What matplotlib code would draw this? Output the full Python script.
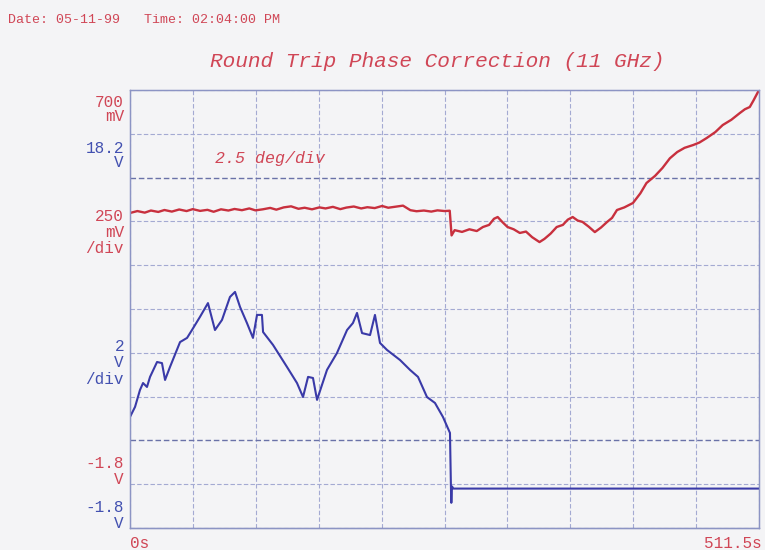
import numpy as np
import matplotlib
matplotlib.use("Agg")
import matplotlib.pyplot as plt

# time base (s) and channel scales
t_end = 511.5
red_top, red_bot = 700, -1800      # mV, 250 mV/div
blue_top, blue_bot = 18.2, -1.8    # V, 2 V/div

# red channel (mV) - phase correction
red_t = [0, 6, 12, 17, 23, 28, 34, 40, 46, 51, 57, 63, 68, 74, 80, 85, 91, 97, 102, 108,
         114, 119, 125, 131, 137, 142, 148, 154, 159, 165, 171, 176, 182, 188, 193, 199,
         205, 210, 216, 222, 228, 233, 239, 245, 250, 256, 260,
         261.5, 264, 270, 276, 282, 287, 292, 296, 299, 303, 307, 312, 317, 322, 327,
         333, 337, 342, 347, 352, 356, 360, 364, 368, 373, 378, 383, 388, 392, 396, 402,
         409, 415, 420, 427, 433, 439, 445, 451, 458, 463, 469, 476, 482, 489, 496, 500,
         504, 507, 511.5]
red_mv = [-2, 9, 0, 12, 4, 15, 6, 18, 9, 20, 10, 16, 5, 19, 12, 21, 14, 24, 13, 19,
          27, 17, 30, 36, 22, 28, 19, 30, 24, 33, 20, 29, 35, 24, 31, 26,
          38, 28, 34, 40, 14, 8, 12, 6, 13, 9, 11,
          -130, -100, -110, -95, -105, -82, -70, -35, -25, -55, -82, -95, -116, -108, -140,
          -168, -150, -120, -82, -70, -40, -25, -45, -53, -80, -111, -85, -53, -30, 15, 30,
          55, 110, 169, 210, 255, 310, 346, 370, 386, 400, 426, 460, 500, 530, 569, 590,
          603, 640, 700]

# blue channel (V)
blue_t = [0, 4.1, 8.1, 10.6, 13.8, 16.3, 22.0, 26.0, 28.5, 32.5, 40.7, 46.4, 50.4, 56.9,
          63.4, 69.1, 74.8, 81.3, 85.4, 89.5, 95.1, 100.0, 103.3, 107.3, 108.2, 116.3,
          127.7, 135.8, 140.7, 144.8, 148.8, 152.1, 156.1, 160.2, 168.3, 176.5, 181.3,
          184.6, 188.7, 195.2, 199.2, 203.3, 209.0, 219.6, 227.7, 234.2, 241.5, 248.0,
          254.5, 260.2, 261.0, 261.3, 261.8, 263.0, 511.5]
blue_v = [3.27, 3.73, 4.50, 4.82, 4.64, 5.10, 5.78, 5.73, 4.96, 5.55, 6.69, 6.88, 7.24, 7.84,
          8.47, 7.24, 7.70, 8.75, 8.98, 8.29, 7.56, 6.88, 7.93, 7.93, 7.15, 6.56,
          5.55, 4.82, 4.18, 5.10, 5.05, 4.05, 4.73, 5.42, 6.19, 7.24, 7.56,
          8.02, 7.10, 7.01, 7.93, 6.65, 6.33, 5.87, 5.42, 5.10, 4.18, 3.91,
          3.27, 2.54, 0.0, -0.65, 0.1, 0.0, 0.0]

W, H = 765, 550
RED = "#c8303e"
BLUE = "#3a3aa8"
RED_TXT = "#d04656"
BLUE_TXT = "#4250b0"
GRID = "#a4aad2"
BG = "#f4f4f6"

fig = plt.figure(figsize=(W / 100, H / 100), dpi=100, facecolor=BG)
ax = fig.add_axes([130 / W, 1 - 528 / H, 629 / W, 438 / H])
ax.set_facecolor(BG)
ax2 = ax.twinx()

ax.set_xlim(0, t_end)
ax.set_ylim(red_bot, red_top)
ax2.set_ylim(blue_bot, blue_top)
ax.set_xticks(np.linspace(0, t_end, 11))
ax.set_yticks(np.linspace(red_bot, red_top, 11))
ax2.set_yticks([])
ax.tick_params(length=0, labelbottom=False, labelleft=False)
ax2.tick_params(length=0, labelright=False)
ax.grid(True, color=GRID, lw=0.8, ls=(0, (4, 2)))
for i, gl in enumerate(ax.get_ygridlines()):
    if i in (2, 8):
        gl.set_color("#6a72a8")
        gl.set_lw(1.0)
for a in (ax, ax2):
    for s in a.spines.values():
        s.set_color("#8c94c4")
        s.set_lw(0.9)
ax.spines["bottom"].set_color("#5a62a0")

ax.plot(red_t, red_mv, color=RED, lw=1.7, solid_joinstyle="round")
ax2.plot(blue_t, blue_v, color=BLUE, lw=1.5, solid_joinstyle="round")


def put(x, y, s, color, ha="right", size=11.5, style="normal"):
    fig.text(x / W, 1 - y / H, s, color=color, ha=ha, va="baseline",
             family="Liberation Mono", fontsize=size, fontstyle=style)


put(8, 23, "Date: 05-11-99   Time: 02:04:00 PM", RED_TXT, ha="left", size=9.6)
put(210, 67, "Round Trip Phase Correction (11 GHz)", RED_TXT, ha="left", size=15.2,
    style="italic")
put(215, 163, "2.5 deg/div", RED_TXT, ha="left", size=12, style="italic")

put(124, 107, "700", RED_TXT)
put(124, 121, "mV", RED_TXT)
put(124, 153, "18.2", BLUE_TXT)
put(124, 167, "V", BLUE_TXT)
put(124, 221, "250", RED_TXT)
put(124, 237, "mV", RED_TXT)
put(124, 253, "/div", RED_TXT)
put(124, 351, "2", BLUE_TXT)
put(124, 367, "V", BLUE_TXT)
put(124, 384, "/div", BLUE_TXT)
put(124, 468, "-1.8", RED_TXT)
put(124, 484, "V", RED_TXT)
put(124, 512, "-1.8", BLUE_TXT)
put(124, 528, "V", BLUE_TXT)
put(130, 548, "0s", RED_TXT, ha="left")
put(762, 548, "511.5s", RED_TXT)

fig.savefig("out.png", dpi=100, facecolor=fig.get_facecolor())
